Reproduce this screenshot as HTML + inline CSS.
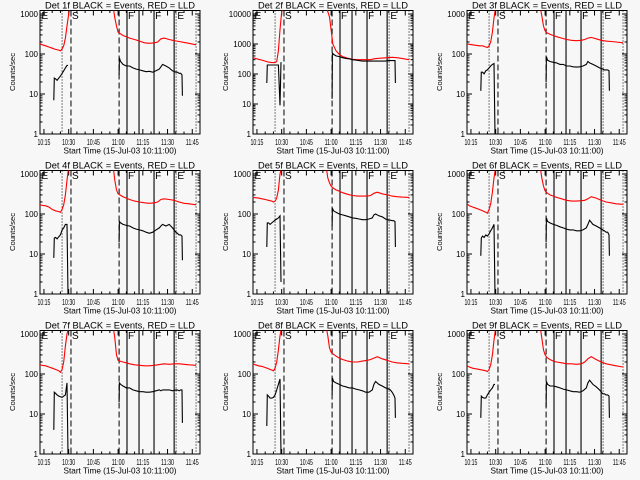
<!DOCTYPE html>
<html><head><meta charset="utf-8"><style>
html,body{margin:0;padding:0;background:#f7f7f7;}
svg{display:block;font-family:"Liberation Sans",sans-serif;}
</style></head><body>
<svg id="chart" width="640" height="480" viewBox="0 0 640 480" xmlns="http://www.w3.org/2000/svg">
<rect width="640" height="480" fill="#f7f7f7"/>
</svg>
<script>
// ---- data (minutes after 10:00) ----
const detNames = ["1f","2f","3f","4f","5f","6f","7f","8f","9f"];
const yMaxDecade = [3,4,3,3,3,3,3,3,3];
const tBlackA = [21,21.3,22,23,24,25,26,27,28,29,29.6];
const tBlackB = [60.6,60.8,61.5,63,65,67,69,71,73,75,77,79,81,83,85,86,87,89,91,93,95,96,97,98,98.8,99];
const tRedA = [12.6,14,16,18,20,22,24,25,26,27,28,29,30,30.8];
const tRedB = [57,58,59,60,61,63,65,67,70,73,76,79,82,84,86,88,91,94,97,100,103,107.3];
const blackA = [
 [7,25,24,22,25,28,33,38,45,52,52],
 [50,200,200,200,200,200,200,200,200,9,250],
 [12,35,35,32,38,40,45,50,55,58,1],
 [8,25,26,24,27,30,40,45,55,55,1],
 [15,60,60,55,60,65,70,75,80,90,2],
 [9,25,28,26,30,28,32,38,45,55,1],
 [4,35,33,30,28,27,26,28,30,60,1],
 [5,30,28,25,25,26,30,40,55,75,1],
 [8,28,26,25,25,30,35,40,45,55,55]];
const blackB = [
 [30,80,65,55,50,50,45,42,40,38,36,37,35,38,42,48,55,50,45,38,35,35,33,33,30,9],
 [15,500,450,400,380,350,330,320,300,290,280,270,270,270,270,270,270,270,270,270,280,280,280,280,280,50],
 [20,85,70,65,62,60,55,55,50,50,48,47,48,50,55,65,60,55,50,45,42,40,40,40,38,12],
 [20,65,60,55,52,50,45,42,40,38,35,33,35,40,45,50,55,50,55,45,35,33,30,30,28,7],
 [50,140,120,110,100,95,90,85,80,78,75,72,72,75,80,95,100,90,85,75,70,70,68,68,65,15],
 [20,80,65,60,55,52,48,45,42,40,40,38,38,40,45,55,70,55,50,45,40,38,35,35,30,9],
 [20,60,55,50,45,45,40,38,36,36,35,35,36,38,40,38,40,40,40,38,40,40,38,40,40,6],
 [30,80,65,60,55,50,48,45,45,42,40,38,35,35,40,55,65,55,50,45,42,40,35,30,25,8],
 [15,65,55,50,50,48,45,42,40,38,36,36,35,38,45,60,70,55,48,40,32,32,30,30,28,8]];
const redA = [
 [180,170,160,150,140,130,125,120,135,160,250,500,1000,1500],
 [350,330,310,290,270,250,240,240,240,260,600,3000,12000,15000],
 [180,175,170,165,160,160,150,145,160,200,350,800,1500,1500],
 [170,165,160,150,130,120,115,110,130,170,300,700,1500,1500],
 [260,255,250,240,230,220,210,200,210,250,400,1000,1500,1500],
 [180,160,150,140,130,120,110,105,130,180,350,800,1500,1500],
 [170,165,160,150,140,130,120,110,130,200,500,1000,1500,1500],
 [180,170,160,155,145,135,125,120,140,200,400,900,1500,1500],
 [160,150,140,135,130,125,120,115,130,170,300,700,1500,1500]];
const redB = [
 [1500,800,500,350,330,290,270,250,230,210,190,185,190,200,240,250,230,215,205,195,185,170],
 [15000,12000,8000,3000,1000,600,450,380,340,310,300,300,300,300,320,330,340,350,360,350,330,300],
 [1500,900,500,380,340,310,290,270,250,230,220,215,220,230,250,260,240,220,210,205,200,190],
 [1500,700,400,320,300,270,250,230,210,200,190,185,190,200,230,240,230,220,200,185,180,170],
 [1500,800,600,500,450,400,370,340,310,290,280,280,280,290,330,350,320,300,280,270,265,260],
 [1500,800,500,380,340,300,280,260,240,220,210,210,215,220,240,270,250,220,200,190,180,175],
 [1500,800,300,220,210,200,190,180,170,165,160,160,165,170,175,180,175,180,180,175,170,165],
 [1500,900,450,350,320,280,250,230,210,200,200,210,220,230,250,270,240,220,200,190,185,180],
 [1500,800,400,300,260,230,210,200,190,180,180,175,180,200,240,270,230,200,180,170,160,150]];
const tickTimes = [15,30,45,60,75,90,105];
const tickLabels = ["10:15","10:30","10:45","11:00","11:15","11:30","11:45"];
const markerTimes = [26,31.4,60.6,65.4,72.7,81.8,94,95.2,107.3];
const markerStyles = ["dot","dash","dash","solid","solid","solid","solid","dot","dot"];
const segLetters = ["E","S","F","F","E"];
const segLetterTimes = [13.5,32,66,82.5,96];

// ---- layout ----
const NS="http://www.w3.org/2000/svg";
const svg=document.getElementById('chart');
const colX=[0,213,427], rowY=[0,160,320];
const L=40,R=200,T=10.5,B=134;
function mk(tag,attrs,parent){const e=document.createElementNS(NS,tag);for(const k in attrs)e.setAttribute(k,attrs[k]);(parent||svg).appendChild(e);return e;}
function xs(m){return L+(m-12.6)*(R-L)/97.1;}

for(let p=0;p<9;p++){
  const ox=colX[p%3], oy=rowY[Math.floor(p/3)];
  const dec=yMaxDecade[p];
  const per=(B-14)/dec;
  const ys=v=>B-per*Math.log10(v);
  const g=mk('g',{transform:`translate(${ox},${oy})`});
  
  
  const clipId='clip'+p;
  const cp=mk('clipPath',{id:clipId},g);mk('rect',{x:L,y:T,width:R-L,height:B-T},cp);

  const title=mk('text',{x:120,y:8.5,'font-size':9,'text-anchor':'middle',textLength:150,lengthAdjust:'spacingAndGlyphs',fill:'#000'},g);
  title.textContent=`Det ${detNames[p]} BLACK = Events, RED = LLD`;
  
  

  const yl=mk('text',{x:0,y:0,'font-size':7.5,'text-anchor':'middle',transform:'translate(15,72) rotate(-90)',textLength:38,lengthAdjust:'spacingAndGlyphs'},g);
  yl.textContent='Counts/sec';
  
  

  const xl=mk('text',{x:120,y:153.5,'font-size':8.5,'text-anchor':'middle',textLength:113,lengthAdjust:'spacingAndGlyphs'},g);
  xl.textContent='Start Time (15-Jul-03 10:11:00)';
  
  

  // frame
  const fr=mk('rect',{x:L,y:T,width:R-L,height:B-T,fill:'none',stroke:'#000','stroke-width':1},g);
  
  

  // y ticks
  for(let d=0;d<=dec;d++){
    const y=ys(Math.pow(10,d));
    mk('line',{x1:L,x2:L+5,y1:y,y2:y,stroke:'#000'},g);
    mk('line',{x1:R-5,x2:R,y1:y,y2:y,stroke:'#000'},g);
    const t=mk('text',{x:L-2,y:y+3,'font-size':8,'text-anchor':'end'},g);
    t.textContent=String(Math.pow(10,d));
    
    
    if(d<dec+1){for(let k=2;k<10;k++){const yy=ys(k*Math.pow(10,d));if(yy<T)continue;
      mk('line',{x1:L,x2:L+2.5,y1:yy,y2:yy,stroke:'#000'},g);
      mk('line',{x1:R-2.5,x2:R,y1:yy,y2:yy,stroke:'#000'},g);}}
  }
  // x ticks
  for(let m=15;m<=105;m+=5){const x=xs(m);const maj=(m%15===0);
    mk('line',{x1:x,x2:x,y1:B,y2:B-(maj?5:2.5),stroke:'#000'},g);
    mk('line',{x1:x,x2:x,y1:T,y2:T+(maj?5:2.5),stroke:'#000'},g);}
  tickTimes.forEach((m,i)=>{const t=mk('text',{x:xs(m),y:145,'font-size':8,'text-anchor':'middle',textLength:13,lengthAdjust:'spacingAndGlyphs'},g);
    t.textContent=tickLabels[i];
    
    });

  // markers
  markerTimes.forEach((m,i)=>{const x=xs(m);const st=markerStyles[i];
    const ln=mk('line',{x1:x,x2:x,y1:T,y2:B,stroke:'#000','stroke-width':st==='solid'?1.1:1,'stroke-dasharray':st==='dot'?'1,2':(st==='dash'?'6,3':'none')},g);
    
    });
  segLetters.forEach((s,i)=>{const t=mk('text',{x:xs(segLetterTimes[i]),y:19,'font-size':10},g);
    t.textContent=s;
    
    });

  // series
  const cg=mk('g',{'clip-path':`url(#${clipId})`},g);
  function line(ts,vs,col,name){
    const d=ts.map((m,i)=>(i?'L':'M')+xs(m).toFixed(1)+','+ys(vs[i]).toFixed(1)).join('');
    const e=mk('path',{d:d,fill:'none',stroke:col,'stroke-width':1.1},cg);
    
    }
  line(tRedA,redA[p],'#ff0000','lld-series-pre');
  line(tRedB,redB[p],'#ff0000','lld-series-post');
  line(tBlackA,blackA[p],'#000','events-series-pre');
  line(tBlackB,blackB[p],'#000','events-series-post');
}
</script>
</body></html>
